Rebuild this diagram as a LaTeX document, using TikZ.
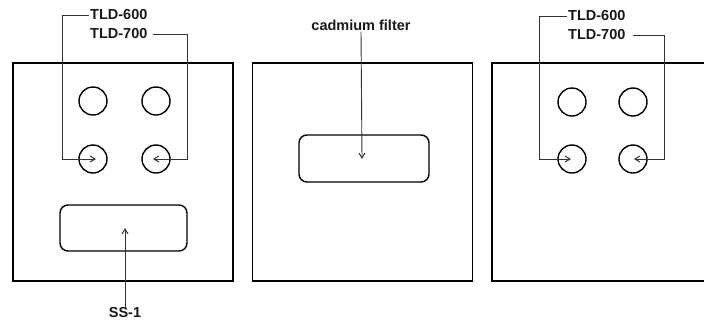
\documentclass[tikz,border=0pt]{standalone}
\usepackage{fontspec}
\setmainfont{Liberation Sans}
\usetikzlibrary{arrows.meta}
\begin{document}
\begin{tikzpicture}[x=1pt,y=-1pt,
  panel/.style={draw=black, line width=1.8pt, minimum width=220pt, minimum height=218pt, inner sep=0pt},
  dot/.style={draw=black, line width=1.4pt, circle, minimum size=28pt, inner sep=0pt},
  slot/.style={draw=black, line width=1.4pt, rounded corners=8pt, inner sep=0pt},
  lbl/.style={font=\fontsize{14.5}{16}\selectfont\bfseries, inner sep=1pt, text=black!90},
  lead/.style={draw=black!80, line width=0.9pt, -{Straight Barb[length=5pt,width=6pt,line width=1pt]}}]
\useasboundingbox (0,0) rectangle (704,322);
% panels
\node[panel] (p1) at (123,172) {};
\node[panel] (p2) at (362.5,172) {};
\node[panel] (p3) at (602,172) {};
% panel 1 circles
\node[dot] (a1) at (93,101) {};
\node[dot] (a2) at (156,101) {};
\node[dot] (a3) at (93,159) {};
\node[dot] (a4) at (156,159) {};
% panel 3 circles
\node[dot] (c1) at (572,102) {};
\node[dot] (c2) at (633,102) {};
\node[dot] (c3) at (572,159) {};
\node[dot] (c4) at (633,159) {};
% slots
\node[slot, minimum width=127pt, minimum height=46pt] (s1) at (123.5,228) {};
\node[slot, minimum width=130pt, minimum height=47pt] (s2) at (364,158.5) {};
% labels
\node[lbl, anchor=west] (t1) at (89,15) {TLD-600};
\node[lbl, anchor=west] (t2) at (89,34) {TLD-700};
\node[lbl, anchor=west] (t3) at (567,16) {TLD-600};
\node[lbl, anchor=west] (t4) at (567,35) {TLD-700};
\node[lbl] (cd) at (361,25) {cadmium filter};
\node[lbl] (ss) at (125,313) {SS-1};
% arrow tips
\coordinate (e1) at (96,159);
\coordinate (e2) at (153,159);
\coordinate (e3) at (571,159);
\coordinate (e4) at (634,159);
\coordinate (e5) at (125,228);
\coordinate (e6) at (362,159);
% leaders
\draw[lead] (t1.west) -| (62,159) -- (e1);
\draw[lead] ([xshift=4pt]t2.east) -| (187,159) -- (e2);
\draw[lead] (t3.west) -| (539,159) -- (e3);
\draw[lead] ([xshift=6pt]t4.east) -| (664,159) -- (e4);
\draw[lead] (ss.north) -- (e5);
\draw[lead] (cd.south) -- (e6);
\end{tikzpicture}
\end{document}
